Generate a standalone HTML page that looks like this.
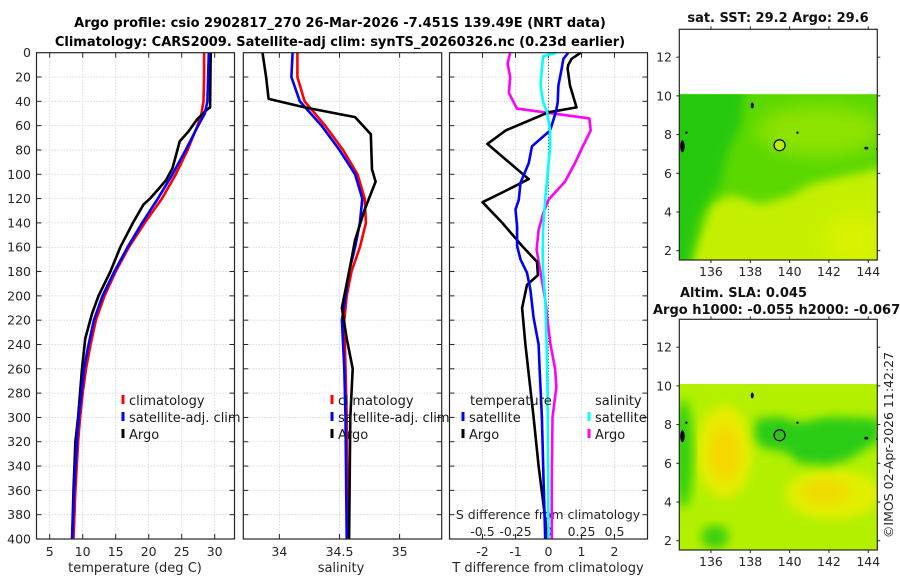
<!DOCTYPE html>
<html><head><meta charset="utf-8">
<style>
html,body{margin:0;padding:0;background:#fff;}
svg{display:block;font-family:"DejaVu Sans","Liberation Sans",sans-serif;}
</style></head>
<body>
<svg id="fig" width="900" height="580" viewBox="0 0 900 580" xmlns="http://www.w3.org/2000/svg">
<defs>
<filter id="blur4" x="-20%" y="-20%" width="140%" height="140%"><feGaussianBlur stdDeviation="5"/></filter>
<filter id="blur8" x="-30%" y="-30%" width="160%" height="160%"><feGaussianBlur stdDeviation="9"/></filter>
<clipPath id="clipMap1"><rect x="679.3" y="94.3" width="198" height="165.7"/></clipPath>
<clipPath id="clipMap2"><rect x="679.3" y="384" width="198" height="166"/></clipPath>
</defs>
<text x="340" y="27" text-anchor="middle" font-size="13" font-weight="bold">Argo profile: csio 2902817_270 26-Mar-2026 -7.451S 139.49E (NRT data)</text>
<text x="340" y="46" text-anchor="middle" font-size="13" font-weight="bold">Climatology: CARS2009. Satellite-adj clim: synTS_20260326.nc (0.23d earlier)</text>
</svg>
<script>
// ---------- data ----------
const tempClimDepth = [0,20,40,50,60,80,100,120,140,160,180,200,220,240,260,280,300,320,360,400];
const tempClim = [28.4,28.4,28.3,28.0,27.4,25.9,24.1,22.0,19.4,17.0,15.0,13.3,12.0,11.2,10.5,10.0,9.6,9.3,8.9,8.6];
const tempSat = [29.1,29.0,28.9,28.5,27.5,25.6,23.6,21.4,19.0,16.8,14.8,13.0,11.7,10.9,10.2,9.8,9.4,9.1,8.7,8.4];
const tempArgoDepth = [0,20,45,47,55,65,73,85,95,105,112,120,125,140,160,180,200,215,235,260,300,320,360,400];
const tempArgo = [29.4,29.35,29.3,28.8,27.3,26.0,24.7,24.1,23.6,22.6,21.5,20.2,19.2,17.6,15.7,14.2,12.4,11.4,10.4,9.9,9.3,8.9,8.6,8.4];

const salClimDepth = [0,20,40,60,80,100,120,140,160,180,200,220,260,300,400];
const salClim = [34.15,34.15,34.21,34.38,34.53,34.65,34.71,34.72,34.67,34.60,34.56,34.54,34.55,34.56,34.57];
const salSat = [34.11,34.10,34.17,34.35,34.50,34.63,34.69,34.67,34.63,34.58,34.55,34.52,34.54,34.55,34.56];
const salArgoDepth = [0,20,38,45,53,67,96,106,129,154,175,195,210,235,260,300,400];
const salArgo = [33.86,33.89,33.91,34.21,34.63,34.76,34.77,34.80,34.71,34.63,34.59,34.55,34.52,34.56,34.61,34.59,34.58];

const tDiffSatDepth = [0,5,13,27,41,49,64,77,91,107,121,129,143,159,170,181,195,218,240,260,300,350,400];
const tDiffSat = [0.6,0.45,0.4,0.3,0.28,0.22,0.05,-0.5,-0.6,-0.85,-0.9,-1.0,-0.95,-0.95,-0.85,-0.65,-0.55,-0.45,-0.3,-0.27,-0.2,-0.15,-0.1];
const tDiffArgoDepth = [0,5,10,13,27,45,49,64,75,104,115,123,140,159,172,183,191,210,240,300,340,400];
const tDiffArgo = [0.98,0.7,0.6,0.58,0.65,0.85,0.0,-1.3,-1.85,-0.6,-1.4,-2.0,-1.4,-0.8,-0.35,-0.32,-0.65,-0.8,-0.7,-0.45,-0.3,-0.02];
const sDiffSatDepth = [0,3,13,27,41,49,64,77,104,121,143,167,181,203,219,260,300,400];
const sDiffSat = [0.06,-0.04,-0.05,-0.06,-0.04,-0.01,0.012,0.012,-0.01,-0.025,-0.04,-0.045,-0.04,-0.025,-0.02,-0.01,-0.005,0.0];
const sDiffArgoDepth = [0,9,20,33,46,54,64,77,91,106,121,132,146,162,181,203,218,240,260,275,300,350,400];
const sDiffArgo = [-0.29,-0.31,-0.29,-0.30,-0.24,0.31,0.32,0.26,0.2,0.125,0.0,-0.04,-0.075,-0.09,-0.06,-0.025,-0.01,0.015,0.05,0.06,0.03,0.025,0.025];

const depthTicks = [0,20,40,60,80,100,120,140,160,180,200,220,240,260,280,300,320,340,360,380,400];
const tempTicks = [5,10,15,20,25,30];
const salTicks = [34,34.5,35];
const salTickLabels = ["34","34.5","35"];
const tDiffTicks = [-2,-1,0,1,2];
const sDiffTicks = [-0.5,-0.25,0,0.25,0.5];
const sDiffTickLabels = ["-0.5","-0.25","0","0.25","0.5"];
const lonTicks = [136,138,140,142,144];
const latTicks = [2,4,6,8,10,12];
const argoLon = 139.49, argoLat = 7.45;

// ---------- helpers ----------
const svg = document.getElementById('fig');
const NS = 'http://www.w3.org/2000/svg';
function mk(tag, attrs, parent, name, inter) {
  const el = document.createElementNS(NS, tag);
  for (const k in attrs) el.setAttribute(k, attrs[k]);
  
  
  (parent || svg).appendChild(el);
  return el;
}
function txt(s, x, y, size, anchor, name, extra) {
  const a = {x:x, y:y, 'font-size':size, 'text-anchor':anchor || 'start', fill:'#262626'};
  if (extra) for (const k in extra) a[k] = extra[k];
  const el = mk('text', a, svg, name, false);
  el.textContent = s;
  return el;
}
const Y0 = 52.7, Y1 = 539;
function yD(d){ return Y0 + (d/400)*(Y1-Y0); }
function makeX(p){ return v => p.x0 + (v-p.xmin)/(p.xmax-p.xmin)*(p.x1-p.x0); }

const panels = [
  {x0:36.5, x1:234.5, xmin:3, xmax:33, name:'temperature-panel'},
  {x0:243.3, x1:441.7, xmin:33.7, xmax:35.35, name:'salinity-panel'},
  {x0:449.5, x1:647.5, xmin:-3, xmax:3, name:'difference-panel'}
];
const gridTicks = [tempTicks, salTicks, tDiffTicks];

panels.forEach((p, i) => {
  const xs = makeX(p);
  const g = mk('g', {}, svg, p.name, false);
  // grid
  depthTicks.forEach(d => {
    if (d===0||d===400) return;
    mk('line', {x1:p.x0,x2:p.x1,y1:yD(d),y2:yD(d),stroke:'#c9d3ea','stroke-width':0.8,'stroke-dasharray':'1.5,1.5'}, g, 'grid-line-horizontal', false);
    mk('line', {x1:p.x0,x2:p.x0+5,y1:yD(d),y2:yD(d),stroke:'#262626','stroke-width':1}, g, 'y-tick-left', false);
    mk('line', {x1:p.x1-5,x2:p.x1,y1:yD(d),y2:yD(d),stroke:'#262626','stroke-width':1}, g, 'y-tick-right', false);
  });
  gridTicks[i].forEach(v => {
    const x = xs(v);
    if (i===2 && v===0) {
      mk('line', {x1:x,x2:x,y1:Y0,y2:Y1,stroke:'#333','stroke-width':1,'stroke-dasharray':'1,2'}, g, 'zero-line', false);
    } else {
      mk('line', {x1:x,x2:x,y1:Y0,y2:Y1,stroke:'#c9d3ea','stroke-width':0.8,'stroke-dasharray':'1.5,1.5'}, g, 'grid-line-vertical', false);
    }
    mk('line', {x1:x,x2:x,y1:Y0,y2:Y0+5,stroke:'#262626','stroke-width':1}, g, 'x-tick-top', false);
    mk('line', {x1:x,x2:x,y1:Y1-5,y2:Y1,stroke:'#262626','stroke-width':1}, g, 'x-tick-bottom', false);
  });
});

// y tick labels (first panel)
depthTicks.forEach(d => { txt(String(d), 31, yD(d)+4.5, 12.5, 'end', 'y-tick-label'); });

// x tick labels
{ const xs = makeX(panels[0]); tempTicks.forEach(v => txt(String(v), xs(v), 556, 12.5, 'middle', 'x-tick-label-temperature')); }
{ const xs = makeX(panels[1]); salTicks.forEach((v,j) => txt(salTickLabels[j], xs(v), 556, 12.5, 'middle', 'x-tick-label-salinity')); }
{ const xs = makeX(panels[2]); tDiffTicks.forEach(v => txt(String(v), xs(v), 556, 12.5, 'middle', 'x-tick-label-tdiff'));
  sDiffTicks.forEach((v,j) => txt(sDiffTickLabels[j], xs(v*4), 536, 12.5, 'middle', 'x-tick-label-sdiff'));
  txt('S difference from climatology', 548, 519, 12.5, 'middle', 's-diff-axis-title'); }

txt('temperature (deg C)', 135, 572, 13, 'middle', 'x-axis-title-temperature');
txt('salinity', 341, 572, 13, 'middle', 'x-axis-title-salinity');
txt('T difference from climatology', 548, 572, 13, 'middle', 'x-axis-title-tdiff');

// series
function series(pi, vals, depths, color, name, scale) {
  const xs = makeX(panels[pi]);
  const pts = vals.map((v,k) => xs(v*(scale||1)).toFixed(1)+','+yD(depths[k]).toFixed(1)).join(' ');
  mk('polyline', {points:pts, fill:'none', stroke:color, 'stroke-width':2.6, 'stroke-linejoin':'round'}, svg, name, false);
}
series(0, tempClim, tempClimDepth, '#ff0000', 'temperature-climatology-line');
series(0, tempArgo, tempArgoDepth, '#000000', 'temperature-argo-line');
series(0, tempSat, tempClimDepth, '#0000ff', 'temperature-satellite-line');
series(1, salClim, salClimDepth, '#ff0000', 'salinity-climatology-line');
series(1, salSat, salClimDepth, '#0000ff', 'salinity-satellite-line');
series(1, salArgo, salArgoDepth, '#000000', 'salinity-argo-line');
series(2, sDiffArgo, sDiffArgoDepth, '#ff00ff', 'sdiff-argo-line', 4);
series(2, tDiffArgo, tDiffArgoDepth, '#000000', 'tdiff-argo-line');
series(2, tDiffSat, tDiffSatDepth, '#0000ff', 'tdiff-satellite-line');
series(2, sDiffSat, sDiffSatDepth, '#00ffff', 'sdiff-satellite-line', 4);

// frames
panels.forEach(p => {
  mk('rect', {x:p.x0,y:Y0,width:p.x1-p.x0,height:Y1-Y0,fill:'none',stroke:'#262626','stroke-width':1.2}, svg, p.name+'-frame', false);
});

// legends
function legendEntry(x, y, color, label, name) {
  mk('line', {x1:x,x2:x,y1:y-10,y2:y-1,stroke:color,'stroke-width':3}, svg, name+'-marker', false);
  txt(label, x+6, y, 13, 'start', name, {fill:'#1a1a1a'});
}
legendEntry(123, 405, '#ff0000', 'climatology', 'legend-climatology');
legendEntry(123, 422, '#0000ff', 'satellite-adj. clim', 'legend-satellite-adj');
legendEntry(123, 439, '#000000', 'Argo', 'legend-argo');
legendEntry(332, 405, '#ff0000', 'climatology', 'legend-sal-climatology');
legendEntry(332, 422, '#0000ff', 'satellite-adj. clim', 'legend-sal-satellite-adj');
legendEntry(332, 439, '#000000', 'Argo', 'legend-sal-argo');
txt('temperature', 470, 405, 13, 'start', 'legend-temperature-header', {fill:'#1a1a1a'});
legendEntry(463, 422, '#0000ff', 'satellite', 'legend-tdiff-satellite');
legendEntry(463, 439, '#000000', 'Argo', 'legend-tdiff-argo');
txt('salinity', 595, 405, 13, 'start', 'legend-salinity-header', {fill:'#1a1a1a'});
legendEntry(589, 422, '#00ffff', 'satellite', 'legend-sdiff-satellite');
legendEntry(589, 439, '#ff00ff', 'Argo', 'legend-sdiff-argo');

// ---------- maps ----------
const mapX0 = 679.3, mapX1 = 877.3, lonMin = 134.39, lonMax = 144.46;
function lx(lon){ return mapX0 + (lon-lonMin)/(lonMax-lonMin)*(mapX1-mapX0); }
function makeLatY(top, bottom){ return lat => top + (13.44-lat)/(13.44-1.52)*(bottom-top); }
function mapFrame(top, bottom, nm, tickLabelY) {
  const ly = makeLatY(top, bottom);
  latTicks.forEach(l => {
    txt(String(l), 672, ly(l)+4.5, 12.5, 'end', nm+'-lat-label');
    mk('line', {x1:mapX0-3,x2:mapX0,y1:ly(l),y2:ly(l),stroke:'#262626'}, svg, nm+'-lat-tick', false);
    mk('line', {x1:mapX1,x2:mapX1+3,y1:ly(l),y2:ly(l),stroke:'#262626'}, svg, nm+'-lat-tick-right', false);
  });
  lonTicks.forEach(l => {
    txt(String(l), lx(l), tickLabelY, 12.5, 'middle', nm+'-lon-label');
    mk('line', {x1:lx(l),x2:lx(l),y1:bottom,y2:bottom+3,stroke:'#262626'}, svg, nm+'-lon-tick', false);
    mk('line', {x1:lx(l),x2:lx(l),y1:top-3,y2:top,stroke:'#262626'}, svg, nm+'-lon-tick-top', false);
  });
  mk('rect', {x:mapX0,y:top,width:mapX1-mapX0,height:bottom-top,fill:'none',stroke:'#262626','stroke-width':1.2}, svg, nm+'-frame', false);
  return ly;
}
function poly(ly, pts, color, parent, name, filt) {
  const a = {points: pts.map(p => lx(p[0]).toFixed(1)+','+ly(p[1]).toFixed(1)).join(' '), fill:color};
  if (filt) a.filter = 'url(#'+filt+')';
  return mk('polygon', a, parent, name, false);
}
function ell(ly, lon, lat, rlon, rlat, color, parent, name, filt) {
  const a = {cx:lx(lon), cy:ly(lat), rx:rlon*(mapX1-mapX0)/(lonMax-lonMin), ry:rlat*(ly(0)-ly(1)), fill:color};
  if (filt) a.filter = 'url(#'+filt+')';
  return mk('ellipse', a, parent, name, false);
}
function coast(ly, parent) {
  [[134.55,7.4,2.2,6],[134.75,8.1,1.2,1.2],[138.1,9.5,1.5,3],[140.4,8.1,1.2,1.2],[143.9,7.3,2,1.4],[144.45,7.25,1,1.2]].forEach(c => {
    mk('ellipse', {cx:lx(c[0]),cy:ly(c[1]),rx:c[2],ry:c[3],fill:'#000'}, parent, 'coastline-island', false);
  });
}

// map 1: SST
{
  const top = 29.3, bottom = 260;
  txt('sat. SST: 29.2 Argo: 29.6', 778, 22, 13, 'middle', 'sst-map-title', {'font-weight':'bold',fill:'#111'});
  const ly = makeLatY(top, bottom);
  const g = mk('g', {'clip-path':'url(#clipMap1)'}, svg, 'sst-map-image', false);
  mk('rect', {x:mapX0,y:ly(10.1),width:198,height:bottom-ly(10.1),fill:'#c4f000'}, g, 'sst-base', false);
  poly(ly, [[133,0],[133,12],[146,12],[146,6.3],[144.5,6.2],[142.5,5.8],[141,5.4],[140,4.8],[138.5,4.4],[137,4.9],[136,4.4],[135.5,3],[135,1.5],[134.6,0]], '#5ad800', g, 'sst-green-region', 'blur4');
  poly(ly, [[133,0],[133,12],[138,12],[137.5,8.5],[136.8,7],[136.5,5.5],[135.5,4],[135,2],[134.7,0]], '#28c810', g, 'sst-dark-green-region', 'blur4');
  ell(ly, 141.5, 8.2, 3.2, 1.3, '#8ee200', g, 'sst-light-patch', 'blur8');
  ell(ly, 143.3, 2.6, 1.6, 1.3, '#d8f200', g, 'sst-yellow-patch', 'blur8');
  coast(ly, g);
  mk('circle', {cx:lx(argoLon),cy:ly(argoLat),r:5.5,fill:'#b8ec00',stroke:'#000','stroke-width':1.2}, g, 'argo-location-marker-sst', false);
  mapFrame(top, bottom, 'sst-map', 276);
}
// map 2: SLA
{
  const top = 319.3, bottom = 550;
  txt('Altim. SLA: 0.045', 680, 297, 13, 'start', 'sla-map-title', {'font-weight':'bold',fill:'#111'});
  txt('Argo h1000: -0.055 h2000: -0.067', 653, 314, 13, 'start', 'sla-map-subtitle', {'font-weight':'bold',fill:'#111'});
  const ly = makeLatY(top, bottom);
  const g = mk('g', {'clip-path':'url(#clipMap2)'}, svg, 'sla-map-image', false);
  mk('rect', {x:mapX0,y:ly(10.1),width:198,height:bottom-ly(10.1),fill:'#b2f000'}, g, 'sla-base', false);
  ell(ly, 136.7, 6.6, 1.4, 2.4, '#e6ec00', g, 'sla-high-west-outer', 'blur4');
  ell(ly, 136.7, 6.5, 0.8, 1.4, '#f4d800', g, 'sla-high-west-core', 'blur4');
  ell(ly, 142.2, 4.4, 2.4, 1.3, '#e2ee00', g, 'sla-high-east-outer', 'blur4');
  ell(ly, 141.8, 4.5, 1.2, 0.7, '#eedc00', g, 'sla-high-east-core', 'blur4');
  poly(ly, [[138.3,8.3],[139.5,8.4],[140.5,8.1],[142,8.4],[144.6,8.3],[144.6,7.2],[143,6.2],[142,5.9],[140.5,6.0],[139.8,6.6],[138.6,6.8],[138.2,7.3]], '#2ccc14', g, 'sla-low-blob', 'blur4');
  ell(ly, 134.6, 6.5, 0.5, 2.8, '#36d010', g, 'sla-low-west-edge', 'blur4');
  ell(ly, 136.2, 2.2, 0.7, 0.6, '#3cd010', g, 'sla-low-south', 'blur4');
  coast(ly, g);
  mk('circle', {cx:lx(argoLon),cy:ly(argoLat),r:5.5,fill:'#30c020',stroke:'#000','stroke-width':1.2}, g, 'argo-location-marker-sla', false);
  mapFrame(top, bottom, 'sla-map', 566);
}
txt('©IMOS 02-Apr-2026 11:42:27', 0, 0, 12.5, 'middle', 'copyright-timestamp', {transform:'translate(893,445) rotate(-90)'});
</script>
</body></html>
